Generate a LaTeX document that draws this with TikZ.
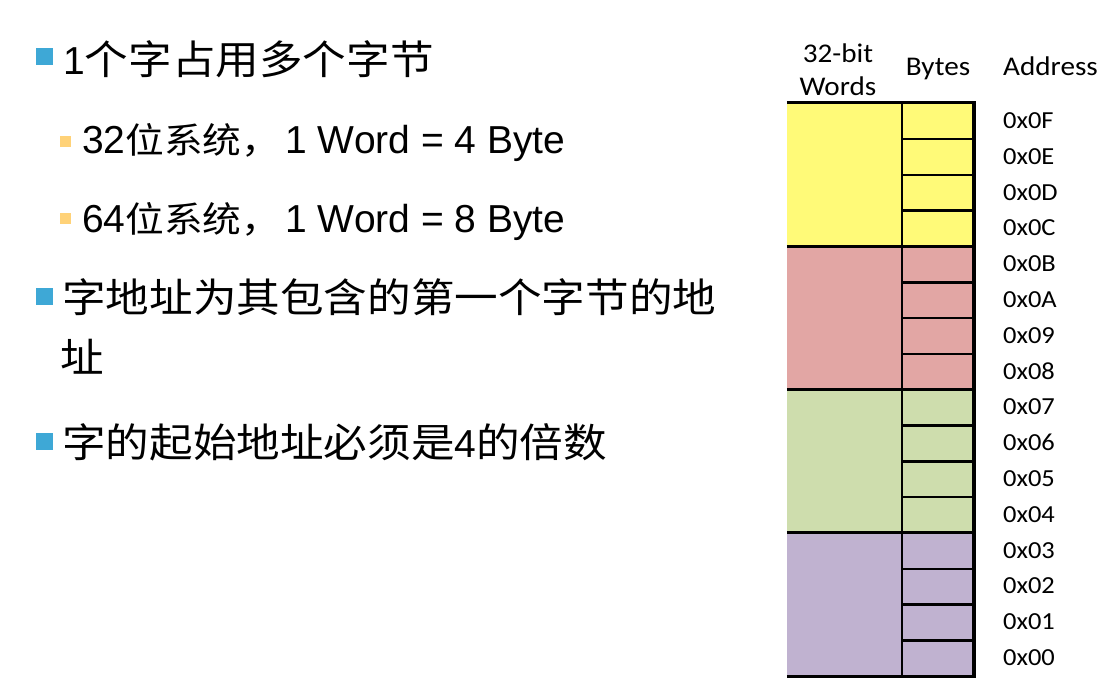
\documentclass[tikz,border=0pt]{standalone}
\usepackage{fontspec}
\setmainfont{Liberation Sans}
\newfontfamily\cjk[FakeStretch=1.09]{Noto Sans CJK SC}
\newfontfamily\calf[FakeStretch=1.08]{Carlito}
\newcommand\cjkM{\cjk\fontsize{40}{48}\selectfont}
\newcommand\cjkS{\cjk\fontsize{35.5}{44}\selectfont}
\definecolor{bulA}{RGB}{62,168,214}
\definecolor{bulB}{RGB}{255,210,120}
\definecolor{cY}{RGB}{255,250,120}
\definecolor{cR}{RGB}{226,166,164}
\definecolor{cG}{RGB}{206,221,173}
\definecolor{cP}{RGB}{192,178,208}
\begin{document}
\begin{tikzpicture}[x=1pt,y=-1pt,
  mainT/.style={anchor=base west, inner sep=0, font=\fontsize{39}{46}\selectfont},
  subT/.style={anchor=base west, inner sep=0, font=\fontsize{39}{46}\selectfont},
  bulletA/.style={fill=bulA, draw=none, inner sep=0, minimum size=17pt},
  bulletB/.style={fill=bulB, draw=none, inner sep=0, minimum size=11pt},
  wcell/.style={draw=none, inner sep=0, minimum width=115pt, minimum height=143.25pt},
  bcell/.style={draw=none, inner sep=0, minimum width=72pt, minimum height=35.8125pt},
  head/.style={inner sep=0, font=\calf\fontsize{27}{33}\selectfont},
  addr/.style={anchor=base west, inner sep=0, font=\calf\fontsize{24.5}{30}\selectfont},
  byteline/.style={line width=2.5pt},
  wordline/.style={line width=3pt},
  border/.style={line width=3.5pt}]
\useasboundingbox (0,0) rectangle (1103,691);

% left text
\node[bulletA] (b1) at (44,56.5) {};
\node[mainT] (t1) at (63,74) {1{\cjkM 个字占用多个字节}};
\node[bulletB] (s1b) at (65.5,141.5) {};
\node[subT] (s1) at (82,153) {32{\cjkS 位系统，}\hspace{5pt}1 Word = 4 Byte};
\node[bulletB] (s2b) at (65.5,218.5) {};
\node[subT] (s2) at (82,232) {64{\cjkS 位系统，}\hspace{5pt}1 Word = 8 Byte};
\node[bulletA] (b3) at (44,296.5) {};
\node[mainT] (t3) at (62,312) {\cjkM 字地址为其包含的第一个字节的地};
\node[mainT] (t3b) at (60,372) {\cjkM 址};
\node[bulletA] (b4) at (44,441) {};
\node[mainT] (t4) at (62,457) {{\cjkM 字的起始地址必须是}4{\cjkM 的倍数}};

% table cells
\foreach \k/\c in {0/cY,1/cR,2/cG,3/cP}{
  \node[wcell, fill=\c] (w\k) at (844.5,{103+143.25*\k+71.625}) {};
  \foreach \j in {0,1,2,3}{
    \pgfmathtruncatemacro\i{4*\k+\j}
    \node[bcell, fill=\c] (c\i) at (938,{103+35.8125*\i+17.90625}) {};
  }
}
% byte separators
\foreach \i in {0,1,2,4,5,6,8,9,10,12,13,14}{
  \draw[byteline] (c\i.south west) -- (c\i.south east);
}
% word separators
\foreach \k/\i in {0/3,1/7,2/11,3/15}{
  \draw[wordline] (w\k.south west) -- (c\i.south east);
}
\draw[wordline] (w0.north west) -- (c0.north east);
\draw[byteline] (w0.north east) -- (w3.south east);
\draw[border] ([yshift=1.5pt]c0.north east) -- ([yshift=-1.5pt]c15.south east);

% headers
\node[head, align=center] (hw) at (838,70) {32-bit\\Words};
\node[head, anchor=base] (hb) at (938,75) {Bytes};
\node[head, anchor=base west] (ha) at (1003,75) {Address};

% addresses
\foreach \i/\t in {0/0F,1/0E,2/0D,3/0C,4/0B,5/0A,6/09,7/08,8/07,9/06,10/05,11/04,12/03,13/02,14/01,15/00}{
  \node[addr] (a\i) at (1003,{103+35.8125*\i+17.90625+7.5}) {0x\t};
}
\end{tikzpicture}
\end{document}
